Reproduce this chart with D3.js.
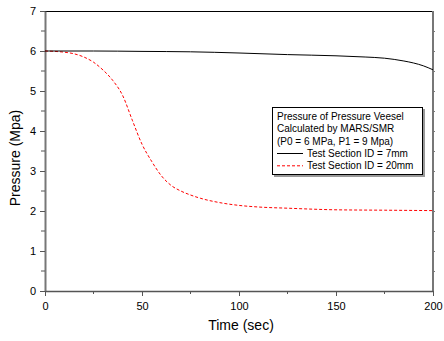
<!DOCTYPE html>
<html>
<head>
<meta charset="utf-8">
<script src="https://cdn.jsdelivr.net/npm/d3@7"></script>
<style>
  body { margin: 0; background: #fff; }
  text { font-family: "Liberation Sans", Arial, sans-serif; }
</style>
</head>
<body>
<div id="chart"></div>
<script>
// time (sec) and pressure (MPa)
var timeId7 = [0, 25, 50, 75, 100, 125, 150, 165, 175, 185, 190, 195, 200];
var presId7 = [6.00, 6.00, 5.99, 5.98, 5.95, 5.91, 5.88, 5.85, 5.82, 5.75, 5.70, 5.63, 5.53];

var timeId20 = [0, 5, 10, 15, 20, 25, 30, 35, 40, 45, 50, 55, 60, 65, 70, 75, 80, 90, 100, 110, 125, 150, 175, 200];
var presId20 = [6.00, 5.99, 5.97, 5.93, 5.85, 5.72, 5.52, 5.26, 4.89, 4.27, 3.67, 3.24, 2.88, 2.64, 2.50, 2.40, 2.32, 2.21, 2.14, 2.10, 2.07, 2.03, 2.02, 2.01];

var xTicks = [0, 50, 100, 150, 200];
var yTicks = [0, 1, 2, 3, 4, 5, 6, 7];

var legendTitle = ["Pressure of Pressure Veesel", "Calculated by MARS/SMR", "(P0 = 6 MPa, P1 = 9 Mpa)"];
var seriesNames = ["Test Section ID = 7mm", "Test Section ID = 20mm"];

var width = 444, height = 341;
var plotLeft = 45, plotRight = 433, plotTop = 11, plotBottom = 291;

var svg = d3.select("#chart").append("svg")
  .attr("width", width)
  .attr("height", height);

var x = d3.scaleLinear().domain([0, 200]).range([plotLeft, plotRight]);
var y = d3.scaleLinear().domain([0, 7]).range([plotBottom, plotTop]);

var axisColor = "#555";

/* frame */
svg.append("line")
  .attr("x1", plotLeft).attr("x2", plotRight)
  .attr("y1", plotTop + 0.5).attr("y2", plotTop + 0.5)
  .attr("stroke", "#000").attr("stroke-width", 1);

svg.append("line")
  .attr("x1", plotRight).attr("x2", plotRight)
  .attr("y1", plotTop).attr("y2", plotBottom)
  .attr("stroke", "#777").attr("stroke-width", 2);

/* right side small ticks */
svg.append("g").selectAll("line")
  .data(d3.range(0.5, 7, 0.5)).enter()
  .append("line")
  .attr("x1", plotRight).attr("x2", plotRight + 2)
  .attr("y1", d => Math.round(y(d)) + 0.5).attr("y2", d => Math.round(y(d)) + 0.5)
  .attr("stroke", "#777");

/* left axis */
var yAxis = d3.axisLeft(y).tickValues(yTicks).tickFormat(d3.format("d"))
  .tickSize(5).tickSizeOuter(0).tickPadding(4);
var gy = svg.append("g")
  .attr("transform", `translate(${plotLeft},0)`)
  .call(yAxis);
gy.select(".domain").attr("stroke", "#777").attr("stroke-width", 2);
gy.selectAll(".tick line").attr("stroke", axisColor);
gy.selectAll(".tick text").attr("font-size", 11).attr("fill", "#000").attr("x", -9);

gy.append("g").selectAll("line")
  .data(d3.range(0.5, 7, 1)).enter()
  .append("line")
  .attr("x1", 0).attr("x2", -4)
  .attr("y1", d => y(d)).attr("y2", d => y(d))
  .attr("stroke", axisColor);

/* bottom axis */
var xAxis = d3.axisBottom(x).tickValues(xTicks).tickFormat(d3.format("d"))
  .tickSize(5).tickSizeOuter(0).tickPadding(6);
var gx = svg.append("g")
  .attr("transform", `translate(0,${plotBottom})`)
  .call(xAxis);
gx.select(".domain").attr("stroke", axisColor).attr("stroke-width", 1.5);
gx.selectAll(".tick line").attr("stroke", axisColor);
gx.selectAll(".tick text").attr("font-size", 11).attr("fill", "#000");

gx.append("g").selectAll("line")
  .data([25, 75, 125, 175]).enter()
  .append("line")
  .attr("x1", d => x(d)).attr("x2", d => x(d))
  .attr("y1", 0).attr("y2", 3)
  .attr("stroke", axisColor);

/* axis titles */
svg.append("text")
  .attr("x", (plotLeft + plotRight) / 2 + 2)
  .attr("y", 330)
  .attr("text-anchor", "middle")
  .attr("font-size", 14)
  .text("Time (sec)");

svg.append("text")
  .attr("transform", "translate(20,158) rotate(-90)")
  .attr("text-anchor", "middle")
  .attr("font-size", 14)
  .text("Pressure (Mpa)");

/* lines */
var line = d3.line()
  .x(d => x(d[0]))
  .y(d => y(d[1]))
  .curve(d3.curveMonotoneX);

svg.append("path")
  .datum(d3.zip(timeId20, presId20))
  .attr("d", line)
  .attr("fill", "none")
  .attr("stroke", "#ff0000")
  .attr("stroke-width", 1)
  .attr("stroke-dasharray", "3,2");

svg.append("path")
  .datum(d3.zip(timeId7, presId7))
  .attr("d", line)
  .attr("fill", "none")
  .attr("stroke", "#000")
  .attr("stroke-width", 1);

/* legend */
var lg = svg.append("g").attr("transform", "translate(272,107)");
lg.append("rect")
  .attr("x", 2).attr("y", 2)
  .attr("width", 151).attr("height", 68)
  .attr("fill", "#999");
lg.append("rect")
  .attr("x", 0.5).attr("y", 0.5)
  .attr("width", 150).attr("height", 67)
  .attr("fill", "#fff")
  .attr("stroke", "#000");

lg.selectAll(".title")
  .data(legendTitle).enter()
  .append("text")
  .attr("class", "title")
  .attr("x", 5)
  .attr("y", (d, i) => 13 + i * 12.3)
  .attr("font-size", 10)
  .text(d => d);

var items = lg.selectAll(".item")
  .data(seriesNames).enter()
  .append("g")
  .attr("class", "item")
  .attr("transform", (d, i) => `translate(0,${49.5 + i * 12.3})`);

items.append("line")
  .attr("x1", 5).attr("x2", 31)
  .attr("y1", -3).attr("y2", -3)
  .attr("stroke", (d, i) => i === 0 ? "#000" : "#ff0000")
  .attr("stroke-dasharray", (d, i) => i === 0 ? null : "3,2");

items.append("text")
  .attr("x", 35)
  .attr("y", 0)
  .attr("font-size", 10)
  .text(d => d);
</script>
</body>
</html>
